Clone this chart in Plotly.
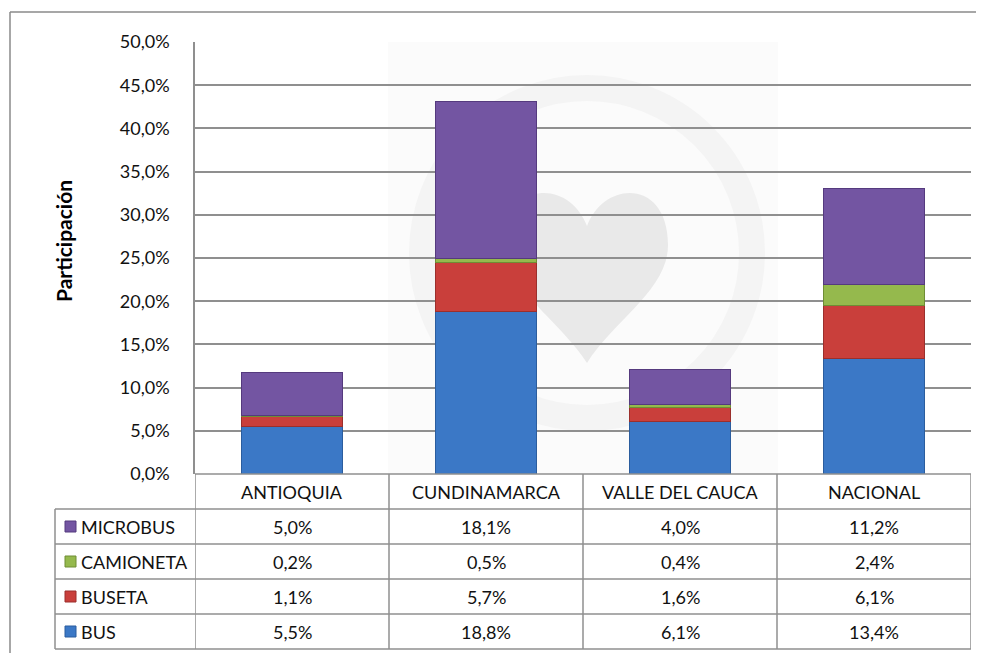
import plotly.graph_objects as go

categories = ["ANTIOQUIA", "CUNDINAMARCA", "VALLE DEL CAUCA", "NACIONAL"]
series_names = ["BUS", "BUSETA", "CAMIONETA", "MICROBUS"]
bus = [5.5, 18.8, 6.1, 13.4]
buseta = [1.1, 5.7, 1.6, 6.1]
camioneta = [0.2, 0.5, 0.4, 2.4]
microbus = [5.0, 18.1, 4.0, 11.2]
y_ticks = [0, 5, 10, 15, 20, 25, 30, 35, 40, 45, 50]
y_tick_labels = [f"{v:.1f}%".replace(".", ",") for v in y_ticks]

values = {"BUS": bus, "BUSETA": buseta, "CAMIONETA": camioneta, "MICROBUS": microbus}
colors = {"BUS": "#3b78c6", "BUSETA": "#c93f3b", "CAMIONETA": "#95b94d", "MICROBUS": "#7355a2"}
edges = {"BUS": "#2b5d9e", "BUSETA": "#9b2f2c", "CAMIONETA": "#6f8d35", "MICROBUS": "#553a7e"}

W, H = 984, 653
FONT = "Lato"
FS = 18
OFF = 8  # page body margin compensation


def px(x):
    return (x - OFF) / W


def py(y):
    return 1 - (y - OFF) / H


fig = go.Figure()
for name in series_names:
    fig.add_trace(go.Bar(
        x=categories, y=values[name], name=name, width=0.52,
        marker=dict(color=colors[name], line=dict(color=edges[name], width=1)),
        showlegend=False, hoverinfo="x+y+name",
    ))

shapes = []
# faint watermark (decorative background)
shapes.append(dict(type="rect", xref="paper", yref="paper", layer="below",
                   x0=px(388), x1=px(778), y0=py(474), y1=py(42),
                   fillcolor="#fbfbfb", line=dict(width=0)))
shapes.append(dict(type="circle", xref="paper", yref="paper", layer="below",
                   x0=px(587 - 165), x1=px(587 + 165), y0=py(253 + 165), y1=py(253 - 165),
                   fillcolor="rgba(0,0,0,0)", line=dict(color="#f4f4f4", width=26)))
shapes.append(dict(type="path", xref="paper", yref="paper", layer="below",
                   path=(f"M {px(587)},{py(226)} "
                         f"C {px(570)},{py(180)} {px(506)},{py(178)} {px(506)},{py(245)} "
                         f"C {px(506)},{py(290)} {px(560)},{py(320)} {px(587)},{py(363)} "
                         f"C {px(614)},{py(320)} {px(668)},{py(290)} {px(668)},{py(245)} "
                         f"C {px(668)},{py(178)} {px(604)},{py(180)} {px(587)},{py(226)} Z"),
                   fillcolor="#e9e9e9", line=dict(width=0)))

# outer frame (top and left edges visible)
shapes.append(dict(type="line", xref="paper", yref="paper", x0=px(10), x1=px(1000),
                   y0=py(12), y1=py(12), line=dict(color="#8a8a8a", width=1.5)))
shapes.append(dict(type="line", xref="paper", yref="paper", x0=px(10), x1=px(10),
                   y0=py(12), y1=py(680), line=dict(color="#8a8a8a", width=1.5)))

grid_col = "#8f8f8f"
row_edges = [474, 509, 544, 579, 614, 649]
# table horizontal lines
shapes.append(dict(type="line", xref="paper", yref="paper", x0=px(195), x1=px(971),
                   y0=py(474), y1=py(474), line=dict(color=grid_col, width=1.5)))
for yy in row_edges[1:]:
    shapes.append(dict(type="line", xref="paper", yref="paper", x0=px(55), x1=px(971),
                       y0=py(yy), y1=py(yy), line=dict(color=grid_col, width=1.5)))
# table vertical lines
shapes.append(dict(type="line", xref="paper", yref="paper", x0=px(55), x1=px(55),
                   y0=py(509), y1=py(649), line=dict(color=grid_col, width=1.5)))
for i in range(len(categories) + 1):
    shapes.append(dict(type="line", xref="x", yref="paper", x0=i - 0.5, x1=i - 0.5,
                       y0=py(474), y1=py(649), line=dict(color=grid_col, width=1.5)))

annotations = []
# category header
for c in categories:
    annotations.append(dict(xref="x", yref="paper", x=c, y=py(491.5), text=c,
                            xanchor="center", yanchor="middle",
                            showarrow=False, font=dict(family=FONT, size=FS, color="#111")))
# rows (top to bottom: MICROBUS, CAMIONETA, BUSETA, BUS)
row_order = ["MICROBUS", "CAMIONETA", "BUSETA", "BUS"]
for r, name in enumerate(row_order):
    yc = (row_edges[r + 1] + row_edges[r + 2]) / 2
    shapes.append(dict(type="rect", xref="paper", yref="paper",
                       x0=px(65), x1=px(76), y0=py(yc + 5.5), y1=py(yc - 5.5),
                       fillcolor=colors[name], line=dict(color=edges[name], width=1)))
    annotations.append(dict(xref="paper", yref="paper", x=px(79), y=py(yc), text=name,
                            xanchor="left", yanchor="middle", showarrow=False,
                            font=dict(family=FONT, size=FS, color="#111")))
    for c, v in zip(categories, values[name]):
        annotations.append(dict(xref="x", yref="paper", x=c, y=py(yc),
                                text=f"{v:.1f}%".replace(".", ","), showarrow=False,
                                xanchor="center", yanchor="middle",
                                font=dict(family=FONT, size=FS, color="#111")))
# y-axis title
annotations.append(dict(xref="paper", yref="paper", x=px(63), y=py(241), text="<b>Participación</b>",
                        textangle=-90, showarrow=False, xanchor="center", yanchor="middle",
                        font=dict(family=FONT, size=21, color="#000")))

fig.update_layout(
    template="none",
    width=W, height=H, margin=dict(l=0, r=0, t=0, b=0, autoexpand=False),
    paper_bgcolor="white", plot_bgcolor="rgba(0,0,0,0)",
    barmode="stack", separators=",.",
    shapes=shapes, annotations=annotations,
    xaxis=dict(domain=[px(195), px(971)], range=[-0.5, 3.5], showticklabels=False,
               showgrid=False, zeroline=False, showline=False, fixedrange=True,
               automargin=False),
    yaxis=dict(domain=[py(474), py(42)], range=[0, 50], tickvals=y_ticks,
               ticktext=y_tick_labels, showgrid=True, gridcolor=grid_col,
               gridwidth=1.5, zeroline=False, showline=True, linecolor=grid_col, linewidth=1.5,
               ticks="", ticklabelstandoff=20, automargin=False, fixedrange=True,
               tickfont=dict(family=FONT, size=FS, color="#111")),
    font=dict(family=FONT),
    hovermode="closest",
)

fig.write_html("out.html")
